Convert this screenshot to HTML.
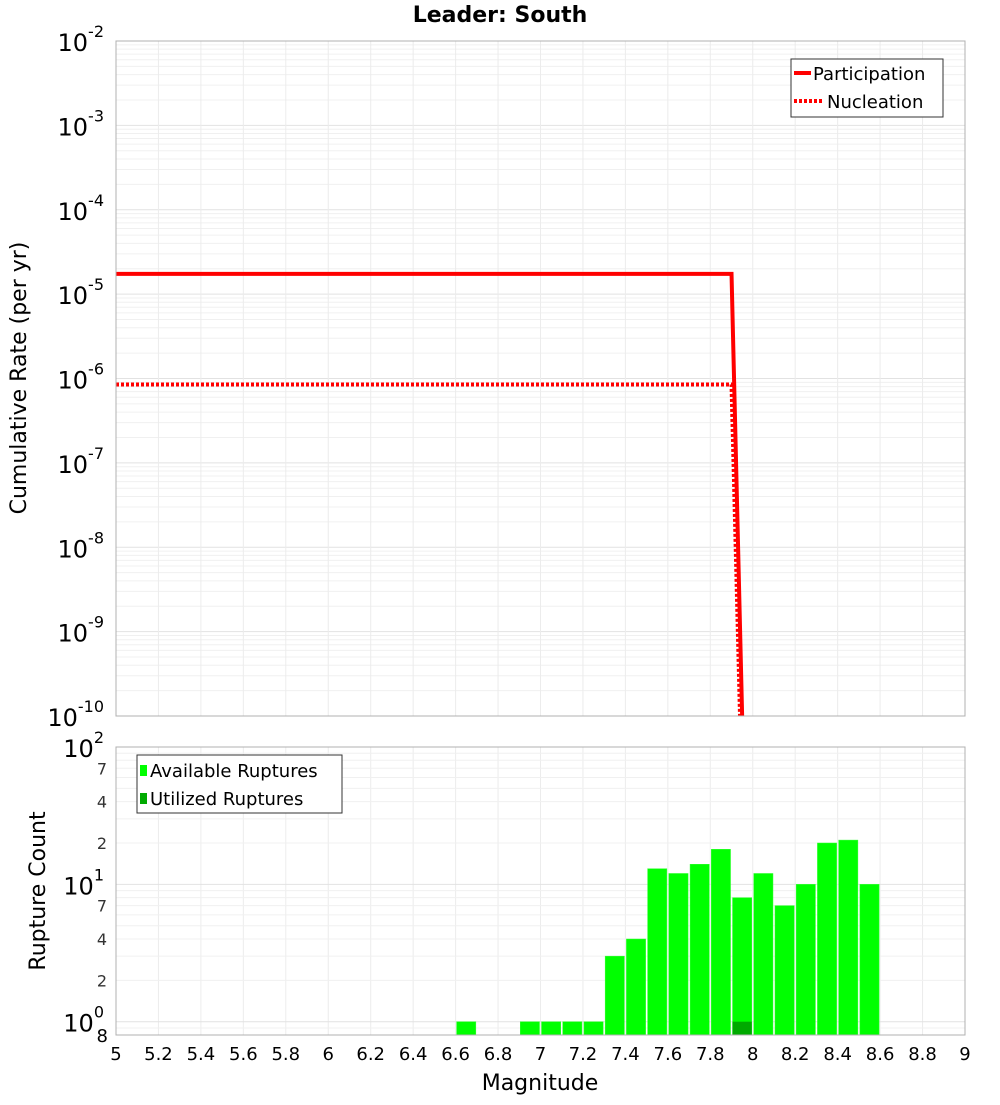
<!DOCTYPE html>
<html><head><meta charset="utf-8"><style>
body{margin:0;background:#fff;font-family:"Liberation Sans","DejaVu Sans",sans-serif}
svg text{font-family:"DejaVu Sans","Liberation Sans",sans-serif}
</style></head><body>
<svg id="c" width="1000" height="1100" xmlns="http://www.w3.org/2000/svg">
<rect width="1000" height="1100" fill="#fff"/>
<text x="500" y="22" text-anchor="middle" font-size="22" font-weight="bold">Leader: South</text>
<g id="topg"></g>
<g id="botg"></g>
</svg>
<script>
const partMags=[5.0,7.9,7.95];
const partRates=[1.74e-5,1.74e-5,1e-10];
const nuclMags=[5.0,7.9,7.94];
const nuclRates=[8.5e-7,8.5e-7,1e-10];
const binStarts=[6.6,6.9,7.0,7.1,7.2,7.3,7.4,7.5,7.6,7.7,7.8,7.9,8.0,8.1,8.2,8.3,8.4,8.5];
const availCounts=[1,1,1,1,1,3,4,13,12,14,18,8,12,7,10,20,21,10];
const utilStarts=[7.9];
const utilCounts=[1];
const xTicks=["5","5.2","5.4","5.6","5.8","6","6.2","6.4","6.6","6.8","7","7.2","7.4","7.6","7.8","8","8.2","8.4","8.6","8.8","9"];
const topExps=[-10,-9,-8,-7,-6,-5,-4,-3,-2];

const NS="http://www.w3.org/2000/svg";
const L=116,R=965,T1=41,B1=716,T2=747,B2=1035;
const X=m=>L+(m-5)/4*(R-L);
const Y1=v=>B1-(Math.log10(v)+10)/8*(B1-T1);
const lo2=Math.log10(0.8),hi2=2;
const Y2=v=>B2-(Math.log10(v)-lo2)/(hi2-lo2)*(B2-T2);
function mk(p,tag,a,txt){const e=document.createElementNS(NS,tag);for(const k in a)e.setAttribute(k,a[k]);if(txt!==undefined)e.textContent=txt;p.appendChild(e);return e;}
const topG=document.getElementById('topg'),botG=document.getElementById('botg');

for(let d=-10;d<-2;d++)for(let k=2;k<=9;k++){const y=Y1(k*Math.pow(10,d));
 const e=mk(topG,'line',{x1:L,x2:R,y1:y,y2:y,stroke:'#f0f0f0','stroke-width':1});
 
 }
topExps.forEach(ex=>{const y=Y1(Math.pow(10,ex));
 const e=mk(topG,'line',{x1:L,x2:R,y1:y,y2:y,stroke:'#e2e2e2','stroke-width':1});
 
 
 const t=mk(topG,'text',{x:104,y:y+10,'text-anchor':'end','font-size':24});
 
 
 mk(t,'tspan',{},'10');mk(t,'tspan',{dy:-14,'font-size':16},String(ex));
});
xTicks.forEach(s=>{const x=X(parseFloat(s));
 const e=mk(topG,'line',{x1:x,x2:x,y1:T1,y2:B1,stroke:'#ececec','stroke-width':1});
 
 
 const e2=mk(botG,'line',{x1:x,x2:x,y1:T2,y2:B2,stroke:'#ececec','stroke-width':1});
 
 
});
function poly(p,ms,vs,attrs,name){const pts=ms.map((m,i)=>X(m)+','+Y1(vs[i])).join(' ');
 const e=mk(p,'polyline',Object.assign({points:pts,fill:'none'},attrs));
 
 }
poly(topG,nuclMags,nuclRates,{stroke:'#ff0000','stroke-width':4,'stroke-dasharray':'3,2'},'nucleation-line');
poly(topG,partMags,partRates,{stroke:'#ff0000','stroke-width':4},'participation-line');
const fr=mk(topG,'rect',{x:L,y:T1,width:R-L,height:B1-T1,fill:'none',stroke:'#b0b0b0'});


const lg=mk(topG,'g',{});


mk(lg,'rect',{x:791,y:59,width:152,height:58,fill:'#fff',stroke:'#333'});
mk(lg,'line',{x1:794,x2:811,y1:73,y2:73,stroke:'#f00','stroke-width':4});
mk(lg,'text',{x:813,y:80,'font-size':18},'Participation');
mk(lg,'line',{x1:794,x2:823,y1:101,y2:101,stroke:'#f00','stroke-width':4,'stroke-dasharray':'3,2'});
mk(lg,'text',{x:827,y:108,'font-size':18},'Nucleation');
const yt=mk(topG,'text',{x:0,y:0,transform:'translate(26,378) rotate(-90)','text-anchor':'middle','font-size':22},'Cumulative Rate (per yr)');



const minor2=[0.9,2,3,4,5,6,7,8,9,20,30,40,50,60,70,80,90];
minor2.forEach(v=>{const y=Y2(v);
 const e=mk(botG,'line',{x1:L,x2:R,y1:y,y2:y,stroke:'#f0f0f0'});
 
 });
[1,10,100].forEach(v=>{const y=Y2(v);
 const e=mk(botG,'line',{x1:L,x2:R,y1:y,y2:y,stroke:'#e2e2e2'});
 
 });
[[100,'2'],[10,'1'],[1,'0']].forEach(([v,ex])=>{const t=mk(botG,'text',{x:104,y:Y2(v)+10,'text-anchor':'end','font-size':24});
 
 
 mk(t,'tspan',{},'10');mk(t,'tspan',{dy:-14,'font-size':16},ex);});
[[70,'7'],[40,'4'],[20,'2'],[7,'7'],[4,'4'],[2,'2']].forEach(([v,s])=>{const t=mk(botG,'text',{x:107,y:Y2(v)+6,'text-anchor':'end','font-size':16,fill:'#333'},s);
 
 });
const e8=mk(botG,'text',{x:108,y:1042,'text-anchor':'end','font-size':18},'8');


binStarts.forEach((m,i)=>{const x=X(m)+1,w=X(m+0.1)-X(m)-2,y=Y2(availCounts[i]);
 const b=mk(botG,'rect',{x:x,y:y,width:w,height:B2-y,fill:'#00ff00',stroke:'#33ff33','stroke-width':0.5});
 
 });
utilStarts.forEach((m,i)=>{const x=X(m)+1,w=X(m+0.1)-X(m)-2,y=Y2(utilCounts[i]);
 const b=mk(botG,'rect',{x:x,y:y,width:w,height:B2-y,fill:'#00aa00'});
 
 });
const fr2=mk(botG,'rect',{x:L,y:T2,width:R-L,height:B2-T2,fill:'none',stroke:'#b0b0b0'});


const lg2=mk(botG,'g',{});


mk(lg2,'rect',{x:137,y:755,width:205,height:58,fill:'#fff',stroke:'#333'});
mk(lg2,'rect',{x:140,y:765,width:7,height:11,fill:'#00ff00'});
mk(lg2,'text',{x:150,y:777,'font-size':18},'Available Ruptures');
mk(lg2,'rect',{x:140,y:793,width:7,height:11,fill:'#00aa00'});
mk(lg2,'text',{x:150,y:805,'font-size':18},'Utilized Ruptures');
const yt2=mk(botG,'text',{x:0,y:0,transform:'translate(45,891) rotate(-90)','text-anchor':'middle','font-size':22},'Rupture Count');


xTicks.forEach(s=>{const t=mk(botG,'text',{x:X(parseFloat(s)),y:1060,'text-anchor':'middle','font-size':18},s);
 
 });
const xt=mk(botG,'text',{x:540,y:1090,'text-anchor':'middle','font-size':22},'Magnitude');


</script>
</body></html>
